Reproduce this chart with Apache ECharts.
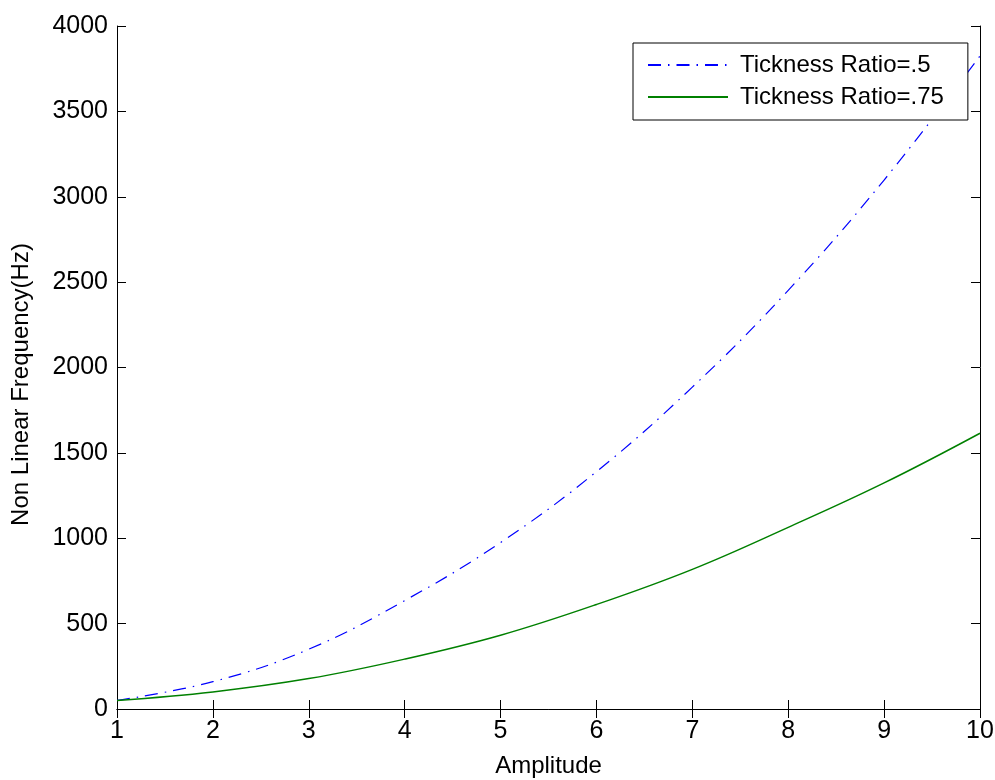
<!DOCTYPE html>
<html>
<head>
<meta charset="utf-8">
<script src="https://cdn.jsdelivr.net/npm/echarts@6/dist/echarts.min.js"></script>
<style>
  html, body { margin: 0; padding: 0; background: #fff; }
  #chart { width: 995px; height: 780px; }
</style>
</head>
<body>
<div id="chart"></div>
<script>
// Amplitude values (x axis)
const amplitude = [1, 2, 3, 4, 5, 6, 7, 8, 9, 10];
// Non linear frequency (Hz) for each thickness ratio
const ratio05 = [50, 160, 350, 635, 975, 1390, 1885, 2452, 3098, 3825];
const ratio075 = [50, 100, 178, 292, 432, 612, 818, 1064, 1324, 1615];
const seriesNames = ['Tickness Ratio=.5', 'Tickness Ratio=.75'];

const FONT = 'Liberation Sans, Arial, sans-serif';
const FS = 24;
const TICK_FS = 25;

const pairs = (ys) => amplitude.map((x, i) => [x, ys[i]]);

const chart = echarts.init(document.getElementById('chart'), null, { renderer: 'canvas' });

const tickStyle = { inside: true, length: 9, lineStyle: { color: '#000', width: 1 } };
const axisLine = { show: true, lineStyle: { color: '#000', width: 1 } };
const plainNumber = (v) => String(v);

chart.setOption({
  animation: false,
  backgroundColor: '#fff',
  grid: { left: 117, top: 26, right: 15, bottom: 71, containLabel: false, outerBoundsMode: 'none' },
  legend: {
    orient: 'vertical',
    left: 633,
    top: 43,
    data: seriesNames,
    backgroundColor: '#fff',
    borderColor: '#000',
    borderWidth: 1,
    borderRadius: 0,
    padding: [10, 24, 11, 14],
    itemWidth: 80,
    itemHeight: 14,
    itemGap: 8,
    itemStyle: { opacity: 0 },
    textStyle: { fontFamily: FONT, fontSize: FS, color: '#000', padding: [0, 0, 0, 7] }
  },
  xAxis: [
    {
      type: 'value', min: 1, max: 10, interval: 1,
      name: 'Amplitude', nameLocation: 'middle', nameGap: 45,
      nameTextStyle: { fontFamily: FONT, fontSize: FS, color: '#000' },
      axisLine: axisLine, axisTick: tickStyle,
      axisLabel: { fontFamily: FONT, fontSize: TICK_FS, color: '#000', margin: 10, formatter: plainNumber },
      splitLine: { show: false }
    },
    {
      type: 'value', min: 1, max: 10, interval: 1, position: 'top',
      axisLine: axisLine, axisTick: tickStyle,
      axisLabel: { show: false }, splitLine: { show: false }
    }
  ],
  yAxis: [
    {
      type: 'value', min: 0, max: 4000, interval: 500,
      name: 'Non Linear Frequency(Hz)', nameLocation: 'middle', nameGap: 84,
      nameTextStyle: { fontFamily: FONT, fontSize: FS, color: '#000', padding: [0, 34, 0, 0] },
      axisLine: axisLine, axisTick: tickStyle,
      axisLabel: { fontFamily: FONT, fontSize: TICK_FS, color: '#000', margin: 9, formatter: plainNumber },
      splitLine: { show: false }
    },
    {
      type: 'value', min: 0, max: 4000, interval: 500, position: 'right',
      axisLine: axisLine, axisTick: tickStyle,
      axisLabel: { show: false }, splitLine: { show: false }
    }
  ],
  series: [
    {
      name: seriesNames[0], type: 'line', data: pairs(ratio05),
      symbol: 'none', smooth: 0.4,
      itemStyle: { color: '#0000ff' },
      lineStyle: { color: '#0000ff', width: 1.2, type: [13, 7, 1.5, 7] }
    },
    {
      name: seriesNames[1], type: 'line', data: pairs(ratio075),
      symbol: 'none', smooth: 0.4,
      itemStyle: { color: '#008000' },
      lineStyle: { color: '#008000', width: 1.5 }
    }
  ]
});
</script>
</body>
</html>
